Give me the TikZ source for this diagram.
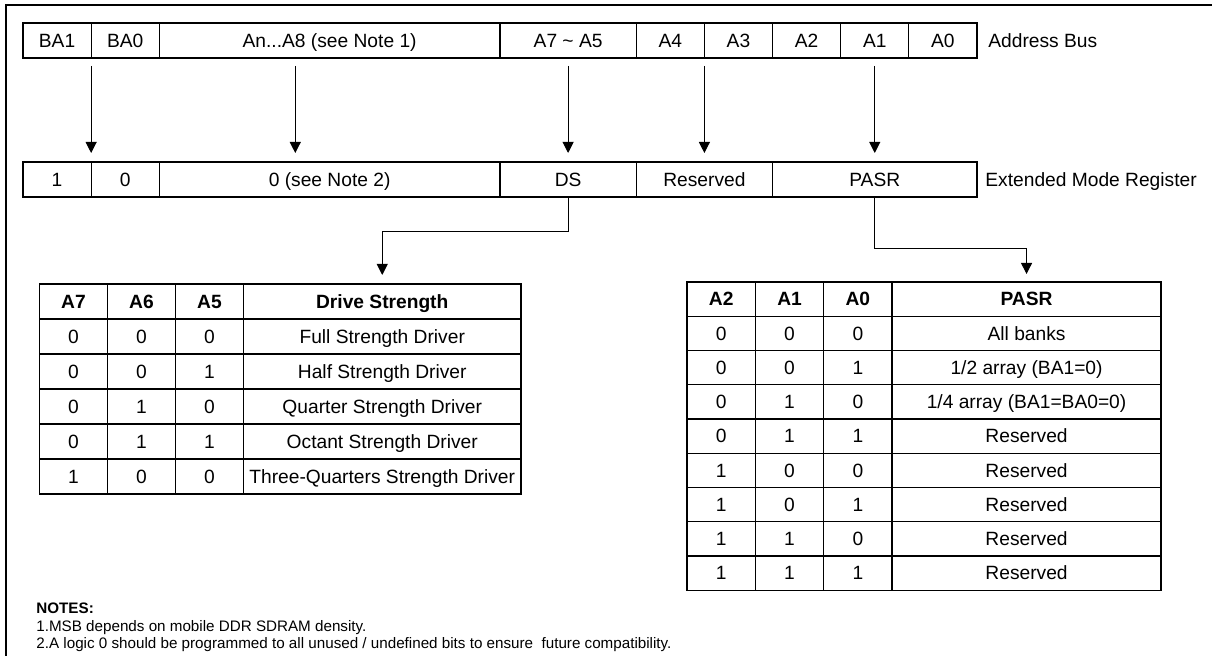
\documentclass[tikz,border=0pt]{standalone}
\usepackage{fontspec}
\setmainfont{Liberation Sans}
\usetikzlibrary{arrows.meta,positioning,calc}

\begin{document}
\begin{tikzpicture}[
  x=0.5pt, y=-0.5pt,
  font=\fontsize{9.6}{11}\selectfont,
  bitcell/.style={
    draw,
    line width=0.6pt,
    anchor=west,
    minimum width=#1*34.07pt,
    minimum height=17.5pt,
    text height=6.9pt,
    text depth=0pt,
    inner sep=0pt,
    outer sep=0pt
  },
  tabcell/.style={
    draw,
    line width=0.7pt,
    minimum height=#1,
    text height=6.9pt,
    text depth=0pt,
    inner sep=0pt,
    outer sep=0pt
  },
  edge/.style={-{Triangle[length=5.5pt,width=5.5pt]},line width=0.5pt,
    shorten <=4pt,shorten >=4.5pt},
  sidelabel/.style={anchor=west,inner sep=0pt,text height=6.9pt,text depth=0pt}
]
\useasboundingbox (0,0) rectangle (1212,656);
\draw[line width=1pt] (1212,5.5) -- (5.5,5.5) -- (5.5,656);

% address bus
\node[bitcell=1] (ab-ba1) at (23,40.5) {BA1};
\node[bitcell=1, right=0pt of ab-ba1] (ab-ba0) {BA0};
\node[bitcell=5, right=0pt of ab-ba0] (ab-an) {An...A8 (see Note 1)};
\node[bitcell=2, right=0pt of ab-an] (ab-a75) {A7 \textasciitilde\ A5};
\node[bitcell=1, right=0pt of ab-a75] (ab-a4) {A4};
\node[bitcell=1, right=0pt of ab-a4] (ab-a3) {A3};
\node[bitcell=1, right=0pt of ab-a3] (ab-a2) {A2};
\node[bitcell=1, right=0pt of ab-a2] (ab-a1) {A1};
\node[bitcell=1, right=0pt of ab-a1] (ab-a0) {A0};
\node[sidelabel] (ab-lbl) at (988,40.5) {Address Bus};

% extended mode register
\node[bitcell=1] (em-1) at (23,179.5) {1};
\node[bitcell=1, right=0pt of em-1] (em-0) {0};
\node[bitcell=5, right=0pt of em-0] (em-an) {0 (see Note 2)};
\node[bitcell=2, right=0pt of em-an] (em-ds) {DS};
\node[bitcell=2, right=0pt of em-ds] (em-res) {Reserved};
\node[bitcell=3, right=0pt of em-res] (em-pasr) {PASR};
\node[sidelabel] (em-lbl) at (985,179.5) {Extended Mode Register};

\draw[edge] (ab-ba1.south east) -- (em-1.north east);
\draw[edge] ([xshift=68pt]ab-an.south west) -- ([xshift=68pt]em-an.north west);
\draw[edge] (ab-a75.south) -- (em-ds.north);
\draw[edge] (ab-a4.south east) -- (em-res.north);
\draw[edge] (ab-a1.south) -- (em-pasr.north);

% drive strength table
\foreach \r/\a/\b/\c/\d in {0/\textbf{A7}/\textbf{A6}/\textbf{A5}/\textbf{Drive Strength},
    1/0/0/0/Full Strength Driver, 2/0/0/1/Half Strength Driver,
    3/0/1/0/Quarter Strength Driver, 4/0/1/1/Octant Strength Driver,
    5/1/0/0/Three-Quarters Strength Driver} {
  \node[tabcell=17.5pt, minimum width=34pt] (ds-\r-0) at (73.5,301.5+35*\r) {\a};
  \node[tabcell=17.5pt, minimum width=34pt, right=0pt of ds-\r-0] (ds-\r-1) {\b};
  \node[tabcell=17.5pt, minimum width=34pt, right=0pt of ds-\r-1] (ds-\r-2) {\c};
  \node[tabcell=17.5pt, minimum width=138.75pt, right=0pt of ds-\r-2] (ds-\r-3) {\d};
}

% pasr table
\foreach \r/\a/\b/\c/\d in {0/\textbf{A2}/\textbf{A1}/\textbf{A0}/\textbf{PASR},
    1/0/0/0/All banks, 2/0/0/1/{1/2 array (BA1=0)},
    3/0/1/0/{1/4 array (BA1=BA0=0)}, 4/0/1/1/Reserved, 5/1/0/0/Reserved,
    6/1/0/1/Reserved, 7/1/1/0/Reserved, 8/1/1/1/Reserved} {
  \node[tabcell=17.125pt, minimum width=34.17pt] (pa-\r-0) at (721.2,299.1+34.25*\r) {\a};
  \node[tabcell=17.125pt, minimum width=34.17pt, right=0pt of pa-\r-0] (pa-\r-1) {\b};
  \node[tabcell=17.125pt, minimum width=34.17pt, right=0pt of pa-\r-1] (pa-\r-2) {\c};
  \node[tabcell=17.125pt, minimum width=134.5pt, right=0pt of pa-\r-2] (pa-\r-3) {\d};
}

\draw[edge, shorten <=0pt] (em-ds.south) -- ++(0,35) -| (ds-0-3.north);
\draw[edge, shorten <=0pt, shorten >=4pt] (em-pasr.south) -- ++(0,52) -| (pa-0-3.north);

% notes
\node[anchor=north west, inner sep=0pt, align=left,
  font=\fontsize{7.6}{8.75}\selectfont] (notes) at (36,602.5)
  {\textbf{NOTES:}\\
   1.MSB depends on mobile DDR SDRAM density.\\
   2.A logic 0 should be programmed to all unused / undefined bits to ensure\ \ future compatibility.};
\end{tikzpicture}
\end{document}
